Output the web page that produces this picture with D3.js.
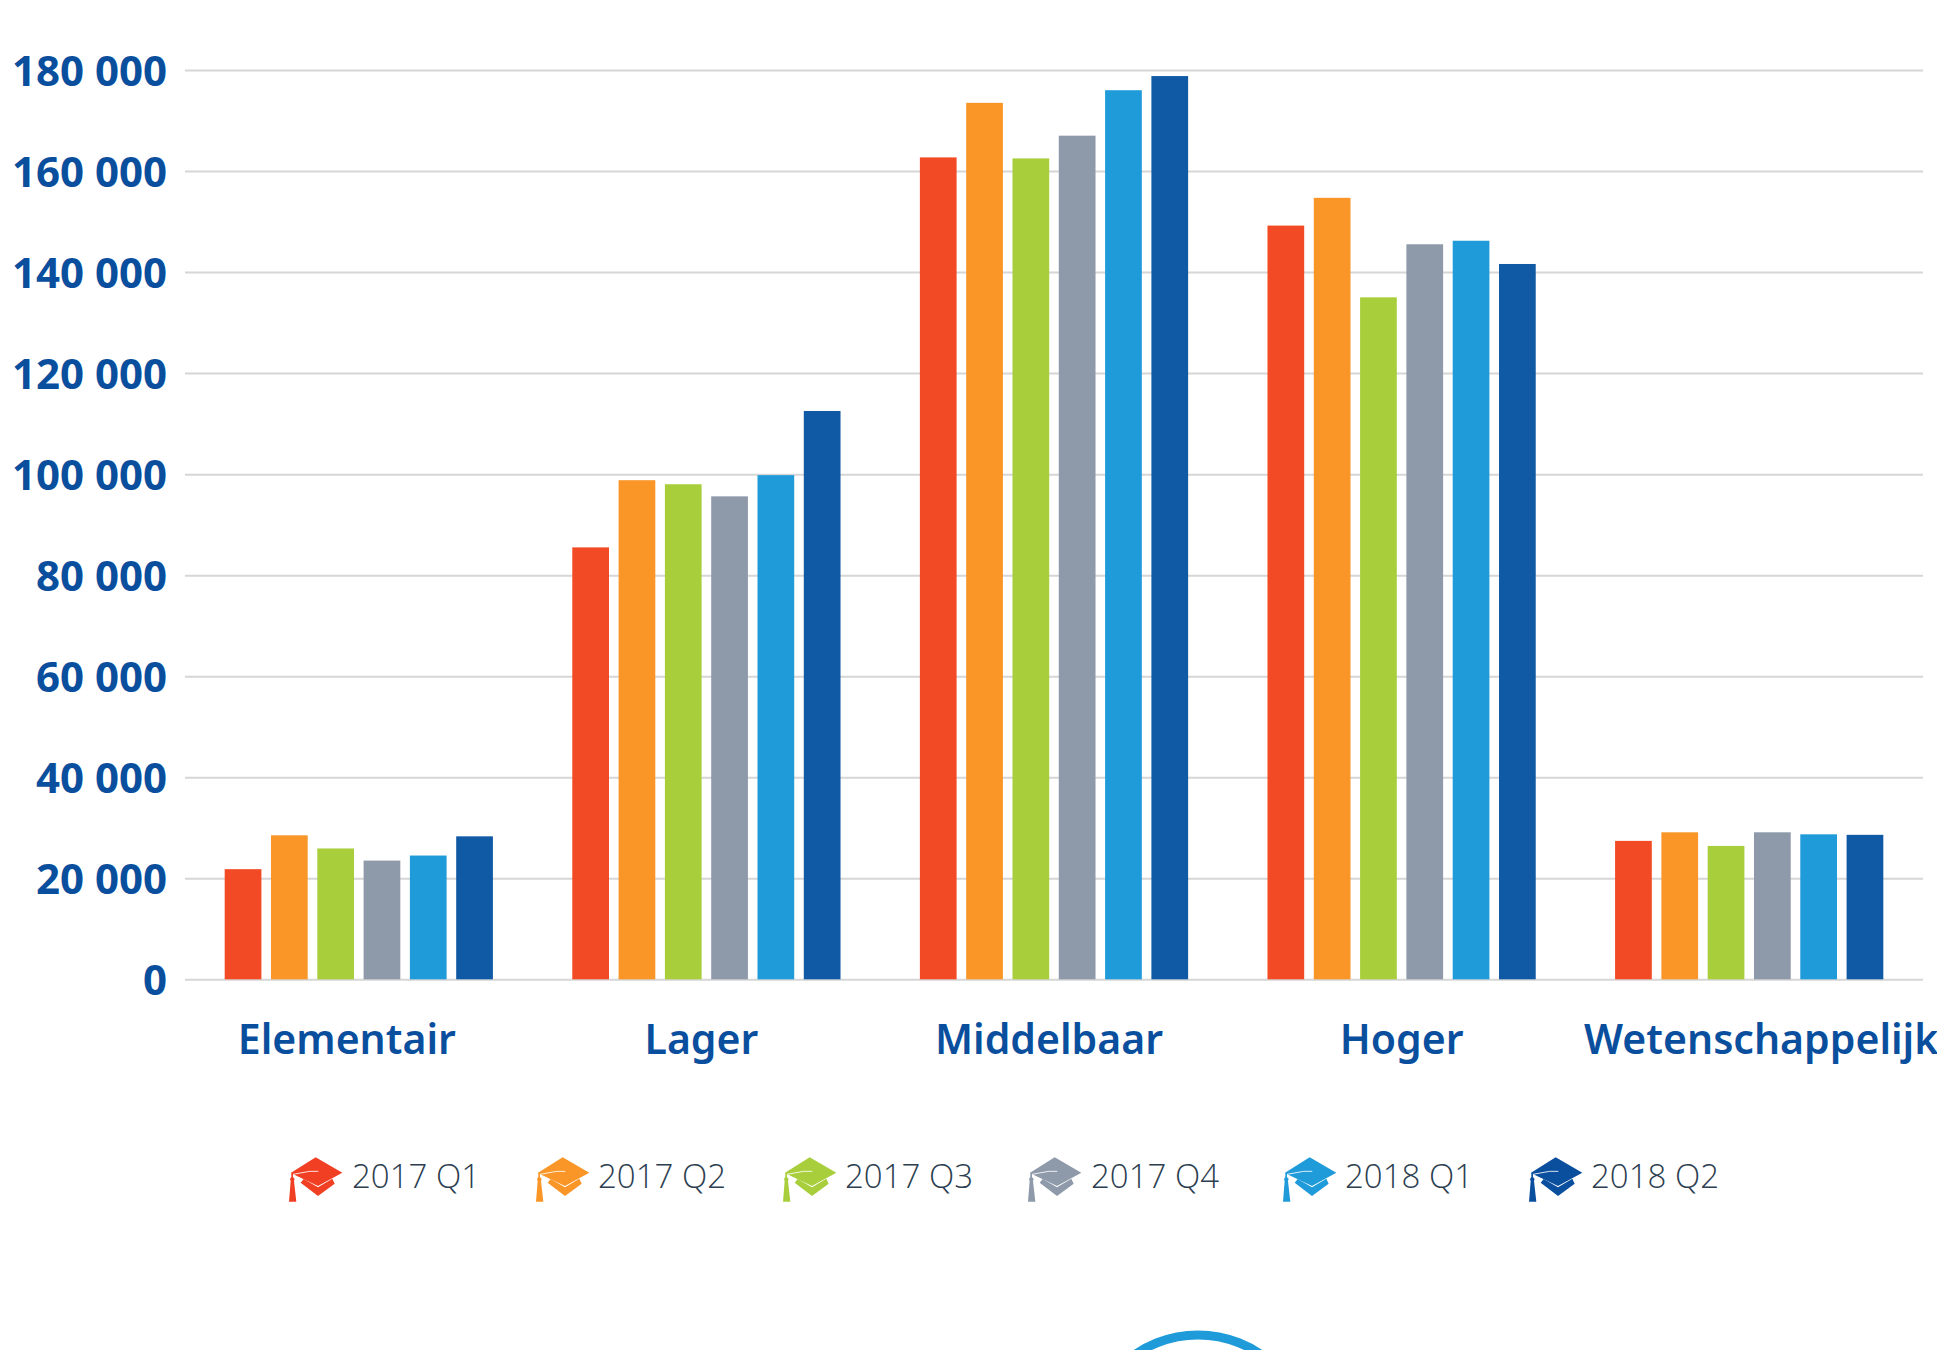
<!DOCTYPE html>
<html>
<head>
<meta charset="utf-8">
<script src="https://cdn.jsdelivr.net/npm/d3@7"></script>
<style>
    html, body { margin: 0; background: #fff; }
    svg { display: block; }
    .y-axis text { font: 700 42px "Open Sans", sans-serif; fill: #0a4f9e; }
    .x-axis text { font: 600 41px "Noto Sans", sans-serif; fill: #0a4f9e; }
    .legend text { font: 300 33px "Open Sans", sans-serif; fill: #2c3e50; }
    .grid line { stroke: #d6d6d6; stroke-width: 2; }
</style>
</head>
<body>
<div id="chart"></div>
<script>
// ----- data -----
const categories = ['Elementair', 'Lager', 'Middelbaar', 'Hoger', 'Wetenschappelijk'];
const quarters = ['2017 Q1', '2017 Q2', '2017 Q3', '2017 Q4', '2018 Q1', '2018 Q2'];
const elementair = [21800, 28500, 25900, 23500, 24500, 28300];
const lager = [85500, 98800, 98000, 95600, 99800, 112500];
const middelbaar = [162700, 173500, 162500, 167000, 176000, 178800];
const hoger = [149200, 154700, 135000, 145500, 146200, 141600];
const wetenschappelijk = [27400, 29100, 26400, 29100, 28700, 28600];
const yTicks = [0, 20000, 40000, 60000, 80000, 100000, 120000, 140000, 160000, 180000];

const seriesByCategory = [elementair, lager, middelbaar, hoger, wetenschappelijk];
const barColors = ['#f24a24', '#f99627', '#a8cf3b', '#8e99aa', '#1f9bd9', '#1059a4'];
const hatColors = ['#f13f24', '#f99627', '#a8cf3b', '#8e99aa', '#1f9bd9', '#0a4f9e'];

// ----- layout -----
const width = 1937, height = 1350;
const plot = { left: 185, right: 1923, top: 70, bottom: 979.3 };
const labelNudge = [-12, -5, -5, 0, 12];   // category labels sit a bit off their band centre
const legendHatX = [289, 536, 783, 1028, 1283, 1529];
const legendTextX = [352, 598, 845, 1091, 1345, 1591];

const svg = d3.select('#chart').append('svg')
    .attr('width', width)
    .attr('height', height);

const x = d3.scaleBand().domain(categories).range([plot.left, plot.right]);
const xInner = d3.scaleBand().domain(quarters).range([0, x.bandwidth()])
    .paddingInner(0.207).paddingOuter(0.857);
const y = d3.scaleLinear().domain([0, 180000]).range([plot.bottom, plot.top]);

// gridlines + y labels
const yAxis = svg.append('g').attr('class', 'y-axis grid')
    .attr('transform', 'translate(' + plot.left + ',0)')
    .call(d3.axisLeft(y)
        .tickValues(yTicks)
        .tickSize(-(plot.right - plot.left))
        .tickPadding(18)
        .tickFormat(function (d) { return d3.format(',')(d).replace(/,/g, ' '); }));
yAxis.select('.domain').remove();
yAxis.selectAll('text').attr('dy', '0.37em');

// bars
const groups = svg.append('g').selectAll('g').data(categories).enter().append('g')
    .attr('transform', function (d) { return 'translate(' + x(d) + ',0)'; });

groups.selectAll('rect')
    .data(function (d, i) {
        return seriesByCategory[i].map(function (v, j) { return { value: v, quarter: quarters[j], color: barColors[j] }; });
    })
    .enter().append('rect')
    .attr('x', function (d) { return xInner(d.quarter); })
    .attr('y', function (d) { return y(d.value); })
    .attr('width', xInner.bandwidth())
    .attr('height', function (d) { return y(0) - y(d.value); })
    .attr('fill', function (d) { return d.color; });

// category labels
const xAxis = svg.append('g').attr('class', 'x-axis')
    .attr('transform', 'translate(0,' + plot.bottom + ')')
    .call(d3.axisBottom(x).tickSize(0).tickPadding(46));
xAxis.select('.domain').remove();
xAxis.selectAll('text').attr('dx', function (d, i) { return labelNudge[i]; });

// legend, the markers are little graduation caps
function drawHat(g, color) {
    const hat = g.append('g').attr('transform', 'scale(0.3333) translate(-88,-80)');
    hat.append('path').attr('fill', color)
        .attr('d', 'M93,128 L168,81 L248,127 L175,167 Z');
    hat.append('path').attr('fill', color)
        .attr('d', 'M123,157 L132,146 L175,171 L218,145 L225,160 L175,197 Z');
    hat.append('path').attr('fill', color)
        .attr('d', 'M95,128 L100,128 L100,140 L105,146 L103,152 L110,214 L88,214 L93,152 L91,146 L95,140 Z');
    hat.append('path').attr('fill', 'none').attr('stroke', '#fff').attr('stroke-width', 2.5)
        .attr('d', 'M100,132 L150,123 L176,123');
}

const legend = svg.append('g').attr('class', 'legend');
quarters.forEach(function (q, i) {
    drawHat(legend.append('g').attr('transform', 'translate(' + legendHatX[i] + ',1157)'), hatColors[i]);
    legend.append('text').attr('x', legendTextX[i]).attr('y', 1188).text(q);
});

// top of the round badge cut off by the bottom edge
svg.append('circle')
    .attr('cx', 1198).attr('cy', 1446).attr('r', 111)
    .attr('fill', 'none').attr('stroke', '#1f9bd9').attr('stroke-width', 9);
</script>
</body>
</html>
